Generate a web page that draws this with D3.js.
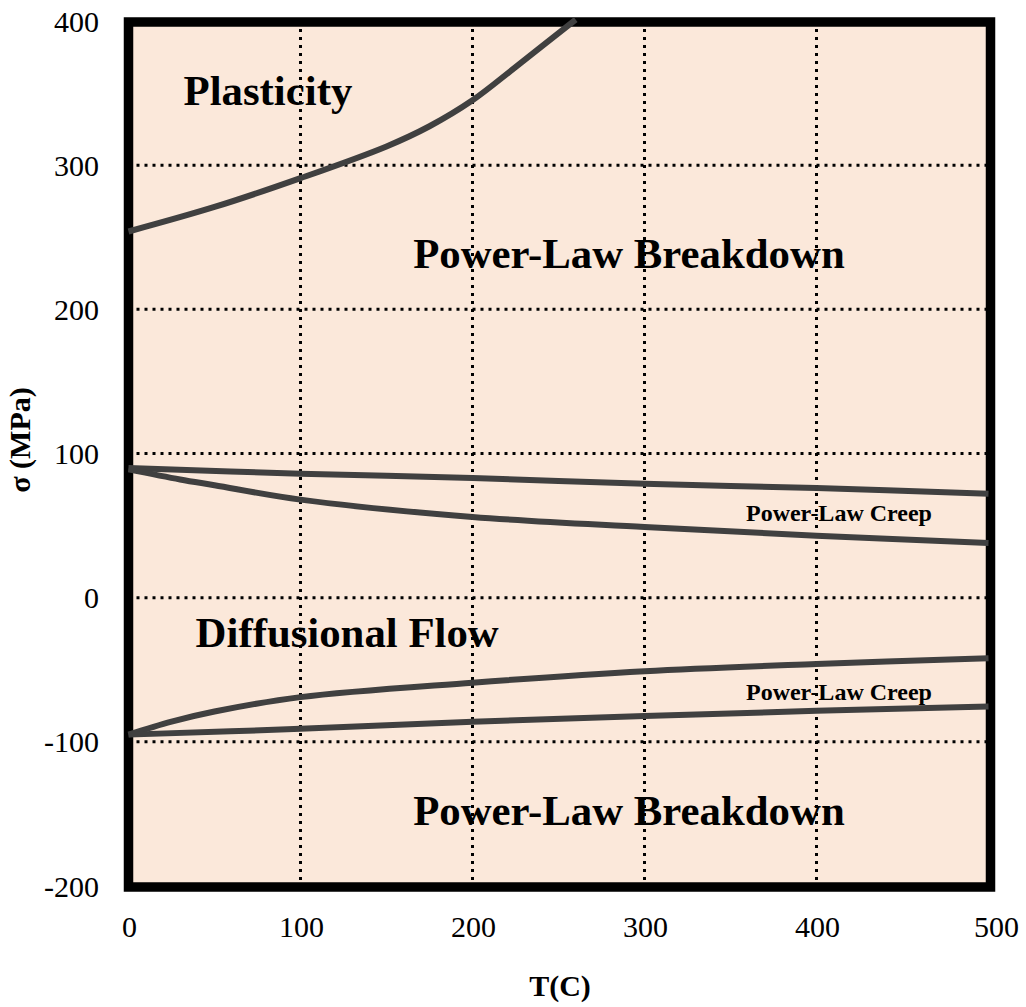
<!DOCTYPE html>
<meta charset="utf-8">
<script src="https://d3js.org/d3.v7.min.js"></script>
<style>
  body { margin: 0; background: #fff; }
  text { font-family: "Liberation Serif", "Times New Roman", serif; }
</style>
<svg id="chart" width="1026" height="1007"></svg>
<script>
// tick values
var xTicks = [0, 100, 200, 300, 400, 500];
var yTicks = [-200, -100, 0, 100, 200, 300, 400];
var xGrid = [100, 200, 300, 400];
var yGrid = [-100, 0, 100, 200, 300];

// boundary curves, T (C) and sigma (MPa)
var plasticityT   = [0, 50, 100, 150, 175, 200, 225, 260];
var plasticityS   = [254, 271, 291, 313, 327, 345, 368, 401];
var plcTopUpperT  = [0, 100, 200, 300, 400, 500];
var plcTopUpperS  = [90, 86, 83, 79, 76, 72];
var plcTopLowerT  = [0, 30, 50, 100, 200, 300, 400, 500];
var plcTopLowerS  = [89, 82, 78, 68, 56, 49, 43, 38];
var plcBotUpperT  = [0, 25, 50, 100, 200, 300, 400, 500];
var plcBotUpperS  = [-95, -86, -79, -69, -59, -51, -46, -42];
var plcBotLowerT  = [0, 100, 200, 300, 400, 500];
var plcBotLowerS  = [-95, -91, -86, -82, -78.5, -75.5];

// region labels
var labelText = ["Plasticity", "Power-Law Breakdown", "Power-Law Creep",
                 "Diffusional Flow", "Power-Law Creep", "Power-Law Breakdown"];
var labelT    = [32, 165.5, 359, 39, 359, 165.5];
var labelS    = [342, 229, 53, -34, -71, -158];
var labelBig  = [true, true, false, true, false, true];

var svg = d3.select("#chart");

var x = d3.scaleLinear().domain([0, 500]).range([128.5, 988.5]);
var y = d3.scaleLinear().domain([-200, 400]).range([886, 21]);

// background
svg.append("rect")
    .attr("x", x(0)).attr("y", y(400))
    .attr("width", x(500) - x(0) + 2).attr("height", y(-200) - y(400))
    .attr("fill", "#fbe8da");

// dotted grid
svg.append("g").selectAll("line")
    .data(yGrid).enter().append("line")
    .attr("x1", x(0)).attr("x2", x(500))
    .attr("y1", function(d){ return y(d) }).attr("y2", function(d){ return y(d) })
    .attr("stroke", "#000").attr("stroke-width", 3)
    .attr("stroke-dasharray", "3,5");

svg.append("g").selectAll("line")
    .data(xGrid).enter().append("line")
    .attr("x1", function(d){ return x(d) }).attr("x2", function(d){ return x(d) })
    .attr("y1", y(400)).attr("y2", y(-200))
    .attr("stroke", "#000").attr("stroke-width", 3)
    .attr("stroke-dasharray", "3,5");

// frame
svg.append("rect")
    .attr("x", x(0)).attr("y", y(400) + 1)
    .attr("width", x(500) - x(0) + 2).attr("height", y(-200) - y(400))
    .attr("fill", "none")
    .attr("stroke", "#000").attr("stroke-width", 9.5);

// curves
var line = d3.line()
    .x(function(d){ return x(d[0]) })
    .y(function(d){ return y(d[1]) })
    .curve(d3.curveCatmullRom.alpha(0.5));

var curves = [
    d3.zip(plasticityT, plasticityS),
    d3.zip(plcTopUpperT, plcTopUpperS),
    d3.zip(plcTopLowerT, plcTopLowerS),
    d3.zip(plcBotUpperT, plcBotUpperS),
    d3.zip(plcBotLowerT, plcBotLowerS)
];

svg.append("g").selectAll("path")
    .data(curves).enter().append("path")
    .attr("d", line)
    .attr("fill", "none")
    .attr("stroke", "#404040")
    .attr("stroke-width", 6);

// axis tick labels
svg.append("g").selectAll("text")
    .data(yTicks).enter().append("text")
    .attr("x", 99).attr("y", function(d){ return y(d) })
    .attr("dy", "0.35em")
    .attr("text-anchor", "end")
    .style("font-size", "30px")
    .text(function(d){ return d });

svg.append("g").selectAll("text")
    .data(xTicks).enter().append("text")
    .attr("x", function(d){ return x(d) + (d == 500 ? 8 : 1) })
    .attr("y", 937)
    .attr("text-anchor", "middle")
    .style("font-size", "30px")
    .text(function(d){ return d });

// axis titles
svg.append("text")
    .attr("transform", "translate(30,440) rotate(-90)")
    .attr("text-anchor", "middle")
    .style("font-size", "30px").style("font-weight", "bold")
    .text("σ (MPa)");

svg.append("text")
    .attr("x", 560).attr("y", 996)
    .attr("text-anchor", "middle")
    .style("font-size", "30px").style("font-weight", "bold")
    .text("T(C)");

// region labels
svg.append("g").selectAll("text")
    .data(labelText).enter().append("text")
    .attr("x", function(d, i){ return x(labelT[i]) })
    .attr("y", function(d, i){ return y(labelS[i]) })
    .style("font-size", function(d, i){ return labelBig[i] ? "42.8px" : "24px" })
    .style("font-weight", "bold")
    .text(function(d){ return d });
</script>
